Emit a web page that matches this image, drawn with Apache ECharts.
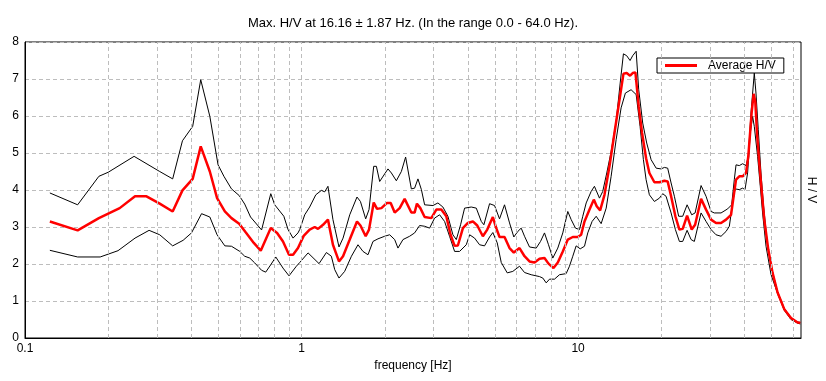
<!DOCTYPE html>
<html><head><meta charset="utf-8">
<script src="https://cdn.jsdelivr.net/npm/echarts@6/dist/echarts.min.js"></script>
<style>html,body{margin:0;padding:0;background:#fff}#c{width:826px;height:381px}</style>
</head><body><div id="c"></div>
<script>
const titleText = 'Max. H/V at 16.16 \u00b1 1.87 Hz. (In the range 0.0 - 64.0 Hz).';
const xAxisName = 'frequency [Hz]';
const yAxisName = 'H / V';
const legendName = 'Average H/V';
const xTickLabels = ['0.1', '1', '10'];
const gridFreqs = [0.2,0.3,0.4,0.5,0.6,0.7,0.8,0.9,1,2,3,4,5,6,7,8,9,10,20,30,40,50,60];

const avgFreq = [0.123,0.155,0.185,0.220,0.250,0.275,0.307,0.342,0.371,0.404,0.432,0.466,0.495,0.528,0.558,0.595,0.629,0.672,0.712,0.774,0.816,0.857,0.901,0.932,0.971,1.018,1.070,1.116,1.147,1.196,1.246,1.299,1.366,1.413,1.494,1.587,1.633,1.706,1.754,1.824,1.875,1.945,2.037,2.101,2.172,2.264,2.360,2.495,2.564,2.614,2.689,2.787,2.947,3.072,3.202,3.338,3.459,3.577,3.676,3.833,3.995,4.165,4.320,4.526,4.695,4.919,5.060,5.200,5.421,5.652,5.857,6.141,6.403,6.674,6.958,7.254,7.561,7.818,8.149,8.447,8.806,9.180,9.570,9.975,10.26,10.55,11.00,11.40,11.68,12.02,12.46,12.99,13.54,14.12,14.59,14.99,15.42,15.76,16.12,16.57,17.04,17.62,18.11,18.88,19.69,20.52,21.09,21.70,22.49,23.25,23.90,24.79,25.76,26.50,27.85,29.03,30.27,31.54,32.89,34.29,35.74,36.73,37.26,38.29,39.36,40.49,41.27,42.42,43.13,43.74,44.36,45.22,46.09,47.14,48.74,50.51,52.66,55.67,58.88,62.21,63.63];
const avgHV = [3.15,2.91,3.24,3.51,3.83,3.83,3.63,3.42,3.99,4.30,5.18,4.50,3.78,3.42,3.24,3.09,2.85,2.57,2.36,2.97,2.84,2.61,2.25,2.25,2.43,2.76,2.93,3.00,2.95,3.06,3.20,2.52,2.07,2.21,2.66,3.15,3.04,2.75,2.93,3.66,3.49,3.51,3.65,3.65,3.39,3.51,3.76,3.39,3.39,3.63,3.51,3.27,3.24,3.47,3.47,3.29,2.79,2.49,2.50,2.97,3.11,3.15,3.04,2.75,2.93,3.27,2.97,2.73,2.73,2.43,2.31,2.43,2.21,2.07,2.04,2.14,2.16,2.01,1.89,2.04,2.34,2.66,2.73,2.73,2.79,3.15,3.47,3.74,3.56,3.45,3.87,4.64,5.54,6.44,7.14,7.16,7.09,7.16,7.18,6.26,5.54,4.86,4.46,4.21,4.21,4.25,4.23,3.83,3.29,2.93,2.95,3.31,2.93,3.06,3.76,3.47,3.20,3.11,3.11,3.20,3.33,3.96,4.28,4.37,4.37,4.46,4.91,6.08,6.60,6.39,5.54,4.73,4.01,3.20,2.39,1.76,1.23,0.78,0.54,0.42,0.41];

const upperFreq = [0.123,0.155,0.185,0.200,0.248,0.307,0.342,0.371,0.404,0.432,0.466,0.499,0.524,0.558,0.595,0.623,0.654,0.717,0.774,0.800,0.863,0.894,0.932,0.971,0.985,1.027,1.070,1.126,1.180,1.213,1.246,1.299,1.366,1.413,1.494,1.587,1.633,1.706,1.754,1.824,1.865,1.917,2.054,2.113,2.202,2.296,2.379,2.495,2.564,2.636,2.713,2.787,2.987,3.113,3.245,3.383,3.527,3.628,3.760,3.887,4.110,4.285,4.467,4.565,4.786,4.989,5.200,5.421,5.652,5.857,6.055,6.228,6.403,6.674,7.057,7.315,7.561,7.818,8.102,8.447,8.806,9.180,9.443,9.786,10.12,10.40,10.70,11.15,11.46,11.95,12.28,12.70,13.17,13.73,14.20,14.59,14.99,15.42,15.76,16.22,16.57,17.13,17.71,18.37,19.16,19.96,20.52,21.09,21.70,22.30,23.11,23.90,24.79,25.76,26.50,27.85,29.03,30.27,31.10,32.89,34.75,35.93,36.73,37.26,38.29,39.36,40.49,41.27,42.21,43.38,43.99,44.84,45.86,46.87,48.46,50.51,52.66,55.67,58.88,61.90,63.63];
const upperHV = [3.92,3.60,4.37,4.48,4.91,4.50,4.30,5.33,5.72,6.98,5.99,4.68,4.37,4.03,3.85,3.62,3.27,2.92,3.90,3.60,3.29,2.93,2.70,2.84,2.93,3.33,3.54,3.87,3.99,3.95,4.10,3.20,2.46,2.70,3.33,3.81,3.69,3.22,3.47,4.64,4.64,4.23,4.57,4.46,4.25,4.50,4.89,4.03,4.05,4.30,4.01,3.60,3.58,3.65,3.54,3.29,2.79,2.66,3.06,3.51,3.54,3.51,3.15,3.06,3.63,3.58,3.22,3.60,3.11,2.73,2.88,2.97,2.75,2.46,2.43,2.61,2.84,2.52,2.16,2.43,2.84,3.42,3.20,2.97,2.93,3.29,3.65,3.96,4.10,3.78,3.96,4.46,5.04,5.85,6.89,7.68,7.63,7.50,7.63,7.75,6.71,5.81,5.27,4.82,4.59,4.57,4.61,4.59,4.19,3.83,3.29,3.29,3.60,3.33,3.38,4.12,3.83,3.42,3.38,3.38,3.49,3.60,4.28,4.68,4.66,4.71,4.66,4.91,6.08,7.16,6.62,5.63,4.46,3.56,2.48,1.78,1.25,0.80,0.55,0.44,0.42];

const lowerFreq = [0.123,0.155,0.187,0.217,0.250,0.281,0.307,0.342,0.373,0.400,0.435,0.466,0.495,0.528,0.558,0.598,0.623,0.650,0.677,0.717,0.742,0.774,0.807,0.857,0.901,0.958,0.985,1.056,1.157,1.230,1.282,1.318,1.366,1.432,1.515,1.600,1.668,1.739,1.813,1.890,1.998,2.083,2.172,2.232,2.327,2.460,2.564,2.673,2.787,2.905,3.028,3.157,3.291,3.430,3.577,3.729,3.942,4.054,4.224,4.404,4.590,4.786,4.919,5.102,5.275,5.545,5.808,6.141,6.403,6.768,7.254,7.456,7.670,7.884,8.217,8.566,9.057,9.309,9.570,9.842,10.18,10.55,10.84,11.24,11.63,12.12,12.64,13.17,13.73,14.31,14.83,15.55,16.22,16.76,17.23,17.62,18.11,18.88,19.69,20.23,20.81,21.70,22.49,23.25,23.90,24.79,25.63,26.33,27.85,29.03,30.27,31.54,32.89,34.29,35.24,36.22,36.95,38.29,39.36,40.15,41.03,41.96,42.77,43.38,44.59,45.60,46.48,47.83,49.85,52.66,55.67,58.88,62.21,63.63];
const lowerHV = [2.37,2.19,2.19,2.36,2.70,2.91,2.79,2.49,2.64,2.84,3.36,3.27,2.79,2.49,2.48,2.34,2.21,2.16,2.03,1.83,1.78,1.98,2.19,1.89,1.68,1.94,2.04,2.30,2.01,2.31,2.21,1.85,1.62,1.80,2.21,2.52,2.34,2.25,2.61,2.68,2.75,2.79,2.66,2.43,2.66,2.75,2.84,3.04,3.02,2.97,3.24,3.33,3.15,2.75,2.34,2.34,2.52,2.79,2.70,2.52,2.49,2.73,2.85,2.57,2.04,1.76,1.80,1.94,1.77,1.71,1.66,1.62,1.49,1.59,1.59,1.71,1.74,1.94,2.21,2.49,2.41,2.48,2.84,3.15,3.29,3.09,3.51,4.37,5.36,6.22,6.62,6.71,6.58,5.72,4.82,4.28,3.87,3.69,3.78,3.90,3.83,3.38,2.93,2.61,2.61,2.91,2.66,2.61,3.38,3.15,2.93,2.79,2.75,2.88,3.02,3.65,4.03,4.01,4.05,4.01,4.46,5.54,5.99,5.72,4.91,4.10,3.38,2.48,1.72,1.20,0.75,0.50,0.40,0.38];

const zip = (a, b) => a.map((f, i) => [f, b[i]]);
const FONT = "'Liberation Sans', Arial, sans-serif";

const chart = echarts.init(document.getElementById('c'), null, {renderer: 'canvas'});
chart.setOption({
  animation: false,
  backgroundColor: '#fff',
  title: {
    text: titleText, left: 'center', top: 12,
    textStyle: {fontFamily: FONT, fontSize: 13, fontWeight: 'normal', color: '#000'}
  },
  legend: {
    data: [{name: legendName, icon: 'rect'}], left: 657, top: 58,
    padding: [1, 8, 1, 8], itemWidth: 32, itemHeight: 3,
    borderColor: '#000', borderWidth: 1, borderRadius: 0, backgroundColor: '#fff',
    itemStyle: {color: '#ff0000', borderWidth: 0},
    textStyle: {fontFamily: FONT, fontSize: 12, color: '#000', padding: [0, 0, 0, 6], lineHeight: 13}
  },
  grid: {left: 25, right: 25, top: 42, bottom: 43, show: true, borderColor: '#000', borderWidth: 1, backgroundColor: '#fff'},
  xAxis: {
    type: 'log', logBase: 10, min: 0.1, max: 64,
    name: xAxisName, nameLocation: 'middle', nameGap: 20,
    nameTextStyle: {fontFamily: FONT, fontSize: 12, color: '#000'},
    axisLine: {lineStyle: {color: '#000', width: 1}},
    axisTick: {show: false},
    splitLine: {show: false},
    axisLabel: {
      fontFamily: FONT, fontSize: 12, color: '#000', margin: 5,
      showMaxLabel: false,
      formatter: function (v) {
        const l = Math.log10(v);
        if (Math.abs(l - Math.round(l)) > 1e-6) return '';
        const idx = Math.round(l) + 1;
        return xTickLabels[idx] !== undefined ? xTickLabels[idx] : '';
      }
    }
  },
  yAxis: {
    type: 'value', min: 0, max: 8, interval: 1,
    axisLine: {show: true, lineStyle: {color: '#000', width: 1}},
    axisTick: {show: false},
    axisLabel: {fontFamily: FONT, fontSize: 12, color: '#000', margin: 6},
    splitLine: {show: true, lineStyle: {color: '#bdbdbd', type: [4, 3], width: 1}}
  },
  graphic: [{
    type: 'text', x: 811, y: 190, rotation: -Math.PI / 2,
    style: {text: yAxisName, fontFamily: FONT, fontSize: 12, fill: '#000', align: 'center', verticalAlign: 'middle'}
  }],
  series: [
    {
      name: 'grid', type: 'line', data: [], z: 0, silent: true,
      markLine: {
        silent: true, symbol: ['none', 'none'], label: {show: false},
        lineStyle: {color: '#bdbdbd', type: [4, 3], width: 1},
        data: gridFreqs.map(f => ({xAxis: f}))
      }
    },
    {name: 'upper', type: 'line', data: zip(upperFreq, upperHV), symbol: 'none', z: 2,
     lineStyle: {color: '#000', width: 1}, itemStyle: {color: '#000'}},
    {name: 'lower', type: 'line', data: zip(lowerFreq, lowerHV), symbol: 'none', z: 2,
     lineStyle: {color: '#000', width: 1}, itemStyle: {color: '#000'}},
    {name: legendName, type: 'line', data: zip(avgFreq, avgHV), symbol: 'none', z: 3,
     lineStyle: {color: '#ff0000', width: 2.5}, itemStyle: {color: '#ff0000'}}
  ]
});
</script></body></html>
